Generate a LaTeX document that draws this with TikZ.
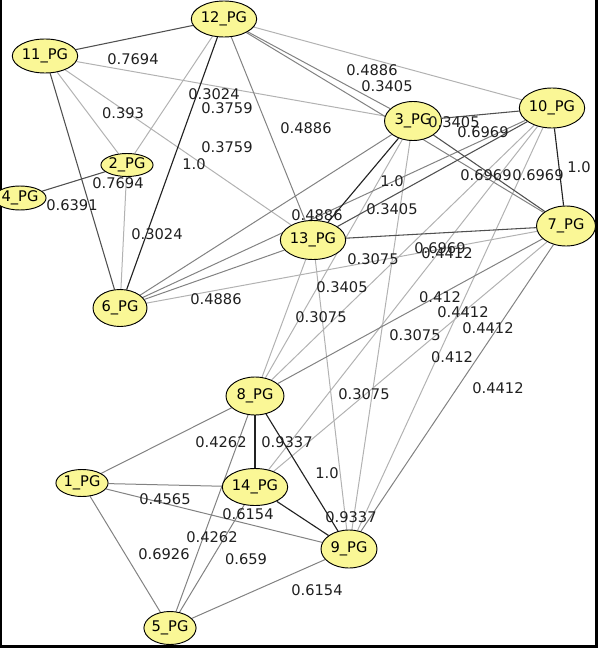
\documentclass[tikz,border=0pt]{standalone}
\usepackage{fontspec}
\setmainfont{DejaVu Sans}
\usetikzlibrary{shapes.geometric,backgrounds}
\definecolor{nodefill}{RGB}{250,247,150}
\definecolor{cK}{RGB}{35,35,35}
\definecolor{cD}{RGB}{80,80,80}
\definecolor{cM}{RGB}{130,130,130}
\definecolor{cL}{RGB}{178,178,178}
\tikzset{
  pg/.style={ellipse, draw=black, line width=0.7pt, fill=nodefill, inner sep=0pt,
             font=\fontsize{11}{13}\selectfont},
  sz/.style 2 args={minimum width=#1*0.75pt, minimum height=#2*0.75pt},
  wt/.style={inner sep=0pt, font=\fontsize{11}{13}\selectfont, text=black!88},
  eK/.style={draw=cK, line width=0.85pt},
  eD/.style={draw=cD, line width=0.8pt},
  eM/.style={draw=cM, line width=0.75pt},
  eL/.style={draw=cL, line width=0.75pt},
  frameline/.style={draw=black, line width=2pt}
}
\begin{document}
\begin{tikzpicture}[x=0.75pt, y=-0.75pt]
\useasboundingbox (0,0) rectangle (600,649);
% frame
\draw[frameline] (1,0) -- (1,647.5);
\draw[frameline] (596.5,0) -- (596.5,647.5);
\draw[frameline] (0,646.5) -- (597.5,646.5);
% nodes
\node[pg, sz={55}{36}] (n12) at (224,19) {12\_PG};
\node[pg, sz={52}{34}] (n11) at (45,56) {11\_PG};
\node[pg, sz={40}{23}] (n2) at (127,165) {2\_PG};
\node[pg, sz={38}{24}] (n4) at (20,198) {4\_PG};
\node[pg, sz={54}{37}] (n6) at (120,308) {6\_PG};
\node[pg, sz={57}{39}] (n3) at (413,121) {3\_PG};
\node[pg, sz={59}{40}] (n10) at (552,108) {10\_PG};
\node[pg, sz={59}{40}] (n7) at (566,226) {7\_PG};
\node[pg, sz={59}{39}] (n13) at (313,240) {13\_PG};
\node[pg, sz={58}{38}] (n8) at (255,396) {8\_PG};
\node[pg, sz={43}{27}] (n1) at (82,483) {1\_PG};
\node[pg, sz={56}{37}] (n14) at (255,487) {14\_PG};
\node[pg, sz={56}{38}] (n9) at (349,549) {9\_PG};
\node[pg, sz={52}{33}] (n5) at (170,628) {5\_PG};
% edges
\begin{pgfonlayer}{background}
\draw[eL] (n11) -- (n3);
\draw[eL] (n11) -- (n2);
\draw[eL] (n11) -- (n13);
\draw[eL] (n12) -- (n2);
\draw[eL] (n12) -- (n10);
\draw[eL] (n2) -- (n6);
\draw[eL] (n6) -- (n7);
\draw[eL] (n3) -- (n8);
\draw[eL] (n3) -- (n9);
\draw[eL] (n10) -- (n8);
\draw[eL] (n10) -- (n14);
\draw[eL] (n10) -- (n9);
\draw[eL] (n13) -- (n8);
\draw[eL] (n13) -- (n9);
\draw[eL] (n7) -- (n14);
\draw[eM] (n12) -- (n13);
\draw[eM] (n12) -- (n3);
\draw[eM] (n12) -- (n7);
\draw[eM] (n6) -- (n3);
\draw[eM] (n6) -- (n10);
\draw[eM] (n6) -- (n13);
\draw[eM] (n7) -- (n8);
\draw[eM] (n7) -- (n9);
\draw[eM] (n8) -- (n1);
\draw[eM] (n8) -- (n5);
\draw[eM] (n1) -- (n14);
\draw[eM] (n1) -- (n9);
\draw[eM] (n1) -- (n5);
\draw[eM] (n5) -- (n14);
\draw[eM] (n5) -- (n9);
\draw[eD] (n11) -- (n12);
\draw[eD] (n11) -- (n6);
\draw[eD] (n4) -- (n2);
\draw[eD] (n3) -- (n10);
\draw[eD] (n3) -- (n7);
\draw[eD] (n13) -- (n7);
\draw[eD] (n10) -- (n13);
\draw[eK] (n12) -- (n6);
\draw[eK] (n3) -- (n13);
\draw[eK] (n10) -- (n7);
\draw[eK] (n8) -- (n14);
\draw[eK] (n8) -- (n9);
\draw[eK] (n14) -- (n9);
\end{pgfonlayer}
% weights
\node[wt] (w1) at (133,59) {0.7694};
\node[wt] (w2) at (214,94) {0.3024};
\node[wt] (w3) at (227,108) {0.3759};
\node[wt] (w4) at (123,113) {0.393};
\node[wt] (w5) at (227,147) {0.3759};
\node[wt] (w6) at (194,164) {1.0};
\node[wt] (w7) at (118,183) {0.7694};
\node[wt] (w8) at (72,205) {0.6391};
\node[wt] (w9) at (372,70) {0.4886};
\node[wt] (w10) at (387,86) {0.3405};
\node[wt] (w11) at (306,128) {0.4886};
\node[wt] (w12) at (454,122) {0.3405};
\node[wt] (w13) at (483,132) {0.6969};
\node[wt] (w14) at (486,175) {0.6969};
\node[wt] (w15) at (538,175) {0.6969};
\node[wt] (w16) at (579,167) {1.0};
\node[wt] (w17) at (392,181) {1.0};
\node[wt] (w18) at (392,209) {0.3405};
\node[wt] (w19) at (317,215) {0.4886};
\node[wt] (w20) at (440,248) {0.6969};
\node[wt] (w21) at (447,253) {0.4412};
\node[wt] (w22) at (373,259) {0.3075};
\node[wt] (w23) at (342,287) {0.3405};
\node[wt] (w24) at (321,317) {0.3075};
\node[wt] (w25) at (440,297) {0.412};
\node[wt] (w26) at (463,312) {0.4412};
\node[wt] (w27) at (488,328) {0.4412};
\node[wt] (w28) at (415,335) {0.3075};
\node[wt] (w29) at (452,357) {0.412};
\node[wt] (w30) at (498,388) {0.4412};
\node[wt] (w31) at (364,394) {0.3075};
\node[wt] (w32) at (157,234) {0.3024};
\node[wt] (w33) at (216,299) {0.4886};
\node[wt] (w34) at (221,442) {0.4262};
\node[wt] (w35) at (287,442) {0.9337};
\node[wt] (w36) at (165,499) {0.4565};
\node[wt] (w37) at (248,514) {0.6154};
\node[wt] (w38) at (212,537) {0.4262};
\node[wt] (w39) at (164,554) {0.6926};
\node[wt] (w40) at (246,559) {0.659};
\node[wt] (w41) at (327,473) {1.0};
\node[wt] (w42) at (351,517) {0.9337};
\node[wt] (w43) at (317,590) {0.6154};
\end{tikzpicture}
\end{document}
